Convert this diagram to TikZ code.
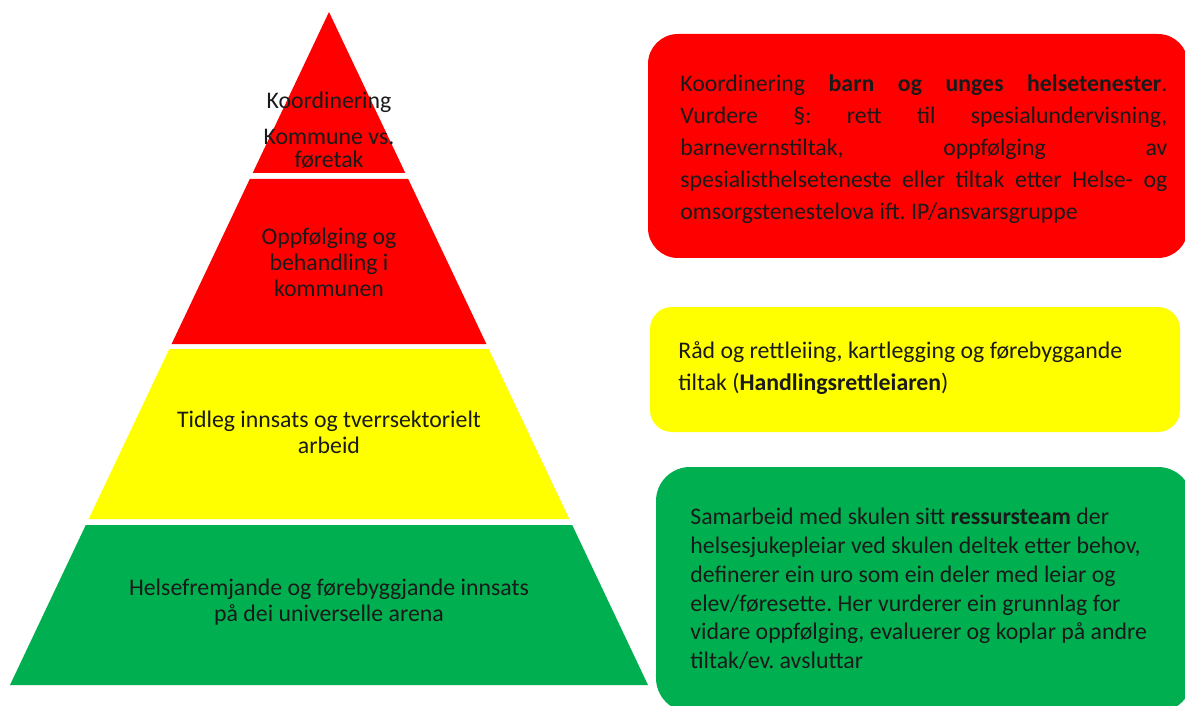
\documentclass[tikz,border=0pt]{standalone}
\usepackage{fontspec}
\setmainfont{Carlito}
\definecolor{pyrred}{HTML}{FF0000}
\definecolor{pyryellow}{HTML}{FFFF00}
\definecolor{pyrgreen}{HTML}{00B050}
\definecolor{inktext}{HTML}{1A1A1A}
\frenchspacing
\begin{document}
\begin{tikzpicture}[x=0.5pt, y=-0.5pt,
    level/.style={align=center, text=inktext, inner sep=0pt, font=\fontsize{11.9}{13}\selectfont},
    note/.style={anchor=west, text=inktext, inner sep=0pt, font=\fontsize{11.9}{16}\selectfont}]
    \useasboundingbox (0,0) rectangle (1185,706);

    % pyramid, top to bottom
    \fill[pyrred]    (329,12) -- (405.3,173) -- (252.7,173) -- cycle;
    \fill[pyrred]    (249.8,179) -- (408.2,179) -- (486.4,344) -- (171.6,344) -- cycle;
    \fill[pyryellow] (169.3,349) -- (488.7,349) -- (569.3,519) -- (88.7,519) -- cycle;
    \fill[pyrgreen]  (85.8,525) -- (572.2,525) -- (648,685) -- (10,685) -- cycle;

    \node[level] (koordText) at (329,130) {Koordinering\\[5pt]Kommune vs.\\[-1.5pt]føretak};
    \node[level] (oppText) at (329,262) {Oppfølging og\\behandling i\\kommunen};
    \node[level] (tidText) at (329,432) {Tidleg innsats og tverrsektorielt\\arbeid};
    \node[level] (helseText) at (329,602) {Helsefremjande og førebyggjande innsats\\på dei universelle arena};

    % boxes on the right
    \fill[pyrred, rounded corners=15pt]    (648,34) rectangle (1188,258);
    \fill[pyryellow, rounded corners=11pt] (650,307) rectangle (1180,432);
    \fill[pyrgreen, rounded corners=17pt]  (656,467) rectangle (1192,712);

    \node[note, text width=243.5pt, align=justify] (koordNote) at (680,149)
      {Koordinering \textbf{barn og unges helsetenester}.\linebreak
       Vurdere §: rett til spesialundervisning,\linebreak
       barnevernstiltak, oppfølging av\linebreak
       spesialisthelseteneste eller tiltak etter Helse- og\linebreak
       omsorgstenestelova ift. IP/ansvarsgruppe};
    \node[note, align=left] (raadNote) at (678,368)
      {Råd og rettleiing, kartlegging og førebyggande\\
       tiltak (\textbf{Handlingsrettleiaren})};
    \node[note, align=left, font=\fontsize{11.9}{14.4}\selectfont] (samNote) at (690,589)
      {Samarbeid med skulen sitt \textbf{ressursteam} der\\
       helsesjukepleiar ved skulen deltek etter behov,\\
       definerer ein uro som ein deler med leiar og\\
       elev/føresette. Her vurderer ein grunnlag for\\
       vidare oppfølging, evaluerer og koplar på andre\\
       tiltak/ev. avsluttar};
\end{tikzpicture}
\end{document}
